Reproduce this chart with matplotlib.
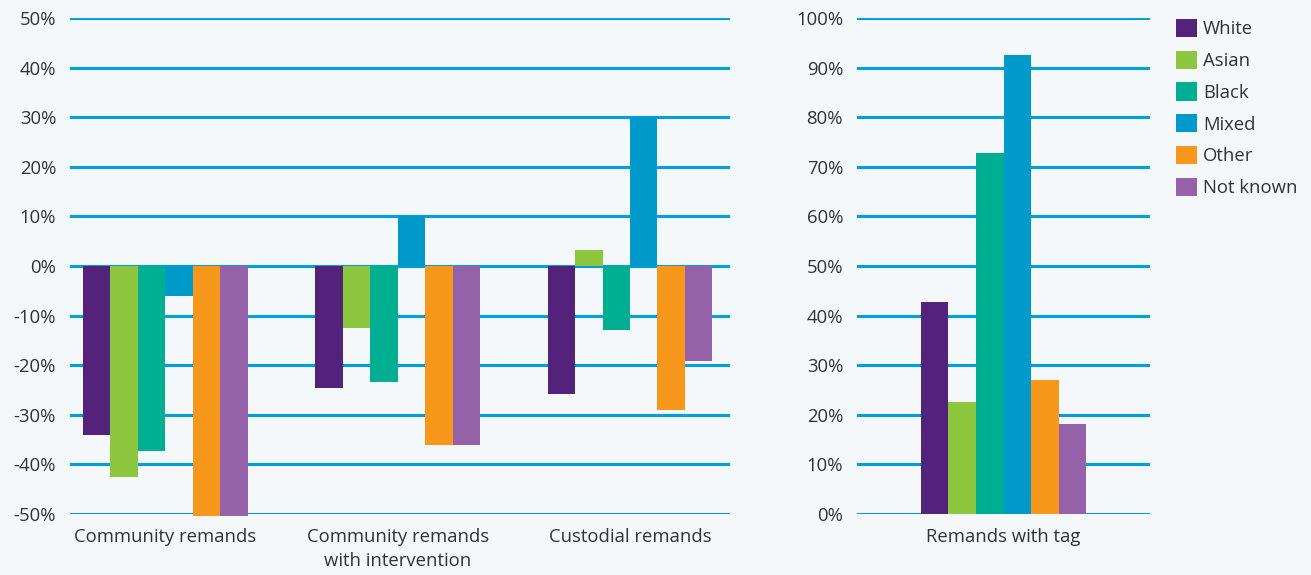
import numpy as np
import matplotlib.pyplot as plt
from matplotlib.patches import Patch

# data
groups = ["White", "Asian", "Black", "Mixed", "Other", "Not known"]
categories = ["Community remands", "Community remands\nwith intervention", "Custodial remands"]
change_white = [-34.1, -24.6, -25.8]
change_asian = [-42.6, -12.6, 3.2]
change_black = [-37.3, -23.4, -13.0]
change_mixed = [-6.0, 10.0, 30.0]
change_other = [-50.4, -36.0, -29.0]
change_unknown = [-50.4, -36.0, -19.1]

tag_category = ["Remands with tag"]
tag_values = [42.8, 22.6, 72.8, 92.5, 27.0, 18.2]

couleurs = ["#53227A", "#8DC63F", "#00AF91", "#009ACA", "#F7981D", "#9561A8"]
fond = "#F4F8FB"
grille = "#00A0E0"
texte = "#333333"
taille = 13.3

plt.rcParams['font.family'] = ['Open Sans', 'DejaVu Sans']
plt.rcParams['font.size'] = taille

fig = plt.figure(figsize=(13.11, 5.75), dpi=100)
fig.patch.set_facecolor(fond)

ax1 = fig.add_axes([70/1311, 1-514/575, 660/1311, 496/575])
ax2 = fig.add_axes([857/1311, 1-514/575, 293/1311, 496/575])


def habiller(ax, ticks):
    ax.set_facecolor(fond)
    for s in ax.spines.values():
        s.set_visible(False)
    ax.set_yticks(ticks)
    ax.set_yticklabels([f"{t}%" for t in ticks])
    ax.yaxis.grid(True, color=grille, linewidth=2.2)
    ax.set_axisbelow(True)
    ax.tick_params(length=0, colors=texte, labelsize=taille)
    ax.tick_params(axis='y', pad=10)
    ax.tick_params(axis='x', pad=10)
    for lab in ax.get_xticklabels():
        lab.set_linespacing(1.45)


# panneau gauche
series = [change_white, change_asian, change_black, change_mixed, change_other, change_unknown]
x = np.arange(len(categories))
w = 0.118
for i, vals in enumerate(series):
    ax1.bar(x + (i - 2.5) * w, vals, width=w, color=couleurs[i], clip_on=False, zorder=3)
ax1.set_xlim(-0.41, 2.43)
ax1.set_ylim(-50, 50)
ax1.set_xticks(x)
ax1.set_xticklabels(categories)
habiller(ax1, list(range(-50, 51, 10)))

# panneau droit
w2 = 0.094
for i, v in enumerate(tag_values):
    ax2.bar(0 + (i - 2.5) * w2, v, width=w2, color=couleurs[i], zorder=3)
ax2.set_xlim(-0.5, 0.5)
ax2.set_ylim(0, 100)
ax2.set_xticks([0])
ax2.set_xticklabels(tag_category)
habiller(ax2, list(range(0, 101, 10)))

# legende
poignees = [Patch(facecolor=c, edgecolor='none') for c in couleurs]
fig.legend(poignees, groups, loc='upper left', bbox_to_anchor=(1176/1311, 1 - 19/575),
           frameon=False, fontsize=taille, handlelength=1.14, handleheight=1.14,
           handletextpad=0.32, labelspacing=0.67, borderaxespad=0, borderpad=0,
           labelcolor=texte)

fig.savefig("out.png", dpi=100, facecolor=fond)
